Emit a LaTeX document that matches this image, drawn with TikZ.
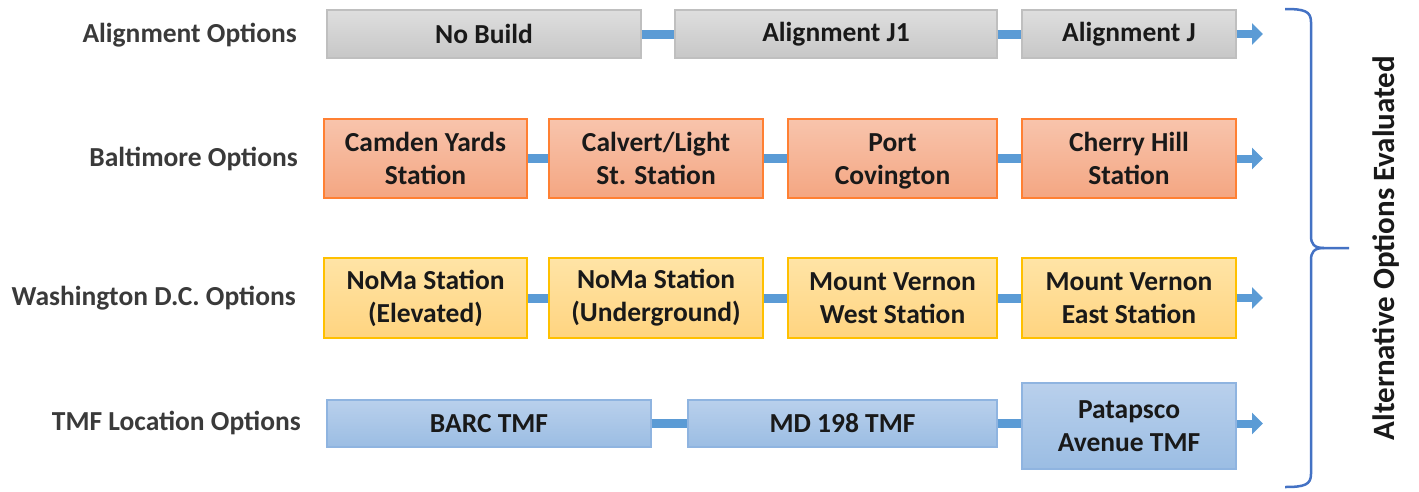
\documentclass[tikz,border=0pt]{standalone}
\usepackage{fontspec}
\setmainfont{Carlito}
\usetikzlibrary{arrows.meta}
\definecolor{conn}{HTML}{5B9BD5}
\definecolor{brk}{HTML}{4472C4}
\definecolor{lbl}{HTML}{3A3A3A}
\tikzset{
  box/.style={draw, line width=1.2pt, align=center, inner sep=0pt,
    font=\fontsize{27.5}{33}\selectfont\bfseries, text=black!90},
  gbox/.style={box, draw=black!25, top color=black!13, bottom color=black!22},
  obox/.style={box, draw=orange!75!red!80, top color={rgb,255:red,248;green,196;blue,172}, bottom color={rgb,255:red,244;green,166;blue,130}},
  ybox/.style={box, draw={rgb,255:red,255;green,192;blue,0}, top color={rgb,255:red,255;green,228;blue,166}, bottom color={rgb,255:red,255;green,212;blue,128}},
  bbox/.style={box, draw={rgb,255:red,143;green,180;blue,224}, top color={rgb,255:red,185;green,208;blue,236}, bottom color={rgb,255:red,155;green,189;blue,227}},
  link/.style={draw=conn, line width=9pt},
  outarrow/.style={draw=conn, line width=8pt, -{Triangle[length=11pt,width=21pt]}},
  rowlabel/.style={anchor=east, font=\fontsize{27.5}{33}\selectfont\bfseries, text=lbl, inner sep=0pt}
}
\begin{document}
\begin{tikzpicture}[x=1pt,y=-1pt]
\useasboundingbox (0,0) rectangle (1419,491);
% row labels
\node[rowlabel] (l1) at (297,35) {Alignment Options};
\node[rowlabel] (l2) at (298,159) {Baltimore Options};
\node[rowlabel] (l3) at (296,298) {Washington D.C. Options};
\node[rowlabel] (l4) at (301,423) {TMF Location Options};
% row 1
\node[gbox, minimum width=314pt, minimum height=48pt] (nb) at (484,34) {No Build};
\node[gbox, minimum width=322pt, minimum height=48pt] (aj1) at (836,34) {Alignment J1};
\node[gbox, minimum width=214pt, minimum height=48pt] (aj) at (1129,34) {Alignment J};
\coordinate (e1) at (1263,34);
% row 2
\node[obox, minimum width=203pt, minimum height=79pt] (cy) at (425.5,158.5) {Camden Yards\\Station};
\node[obox, minimum width=214pt, minimum height=79pt] (cl) at (656,158.5) {Calvert/Light\\St. Station};
\node[obox, minimum width=209pt, minimum height=79pt] (pc) at (892.5,158.5) {Port\vphantom{d}\\\smash{Covington}};
\node[obox, minimum width=214pt, minimum height=79pt] (ch) at (1129,158.5) {Cherry Hill\\Station};
\coordinate (e2) at (1263,158.5);
% row 3
\node[ybox, minimum width=203pt, minimum height=80pt] (ne) at (425.5,298) {NoMa Station\\(Elevated)};
\node[ybox, minimum width=214pt, minimum height=80pt] (nu) at (656,298) {NoMa Station\\(Underground)};
\node[ybox, minimum width=209pt, minimum height=80pt] (mw) at (892.5,298) {Mount Vernon\\West Station};
\node[ybox, minimum width=214pt, minimum height=80pt] (me) at (1129,298) {Mount Vernon\\East Station};
\coordinate (e3) at (1263,298);
% row 4
\node[bbox, minimum width=324pt, minimum height=47pt] (barc) at (489,423.5) {BARC TMF};
\node[bbox, minimum width=309pt, minimum height=47pt] (md) at (842.5,423.5) {MD 198 TMF};
\node[bbox, minimum width=214pt, minimum height=86pt] (pat) at (1129,426) {Patapsco\\Avenue TMF};
\coordinate (e4) at (1263,423.5);
% connectors
\path[link] (nb.east) -- (aj1.west);
\path[link] (aj1.east) -- (aj.west);
\path[outarrow] (aj.east) -- (e1);
\path[link] (cy.east) -- (cl.west);
\path[link] (cl.east) -- (pc.west);
\path[link] (pc.east) -- (ch.west);
\path[outarrow] (ch.east) -- (e2);
\path[link] (ne.east) -- (nu.west);
\path[link] (nu.east) -- (mw.west);
\path[link] (mw.east) -- (me.west);
\path[outarrow] (me.east) -- (e3);
\path[link] (barc.east) -- (md.west);
\path[link] (md.east) -- (md.east -| pat.west);
\path[outarrow] (pat.east |- e4) -- (e4);
% bracket
\coordinate (bt) at (1285,9);
\coordinate (bb) at (1285,487);
\coordinate (bm) at (1349,248);
\draw[brk, line width=2.5pt]
  (bt) .. controls (1304,9) and (1311,11) .. (1311,22)
  -- (1311,236) .. controls (1311,244) and (1314,248) .. (1324,248) -- (bm);
\draw[brk, line width=2.5pt]
  (bb) .. controls (1304,487) and (1311,485) .. (1311,474)
  -- (1311,260) .. controls (1311,252) and (1314,248) .. (1324,248);
\node[rotate=90, font=\fontsize{31}{36}\selectfont\bfseries, text=black!90, inner sep=0pt] (alt) at (1386,248) {Alternative Options Evaluated};
\end{tikzpicture}
\end{document}
